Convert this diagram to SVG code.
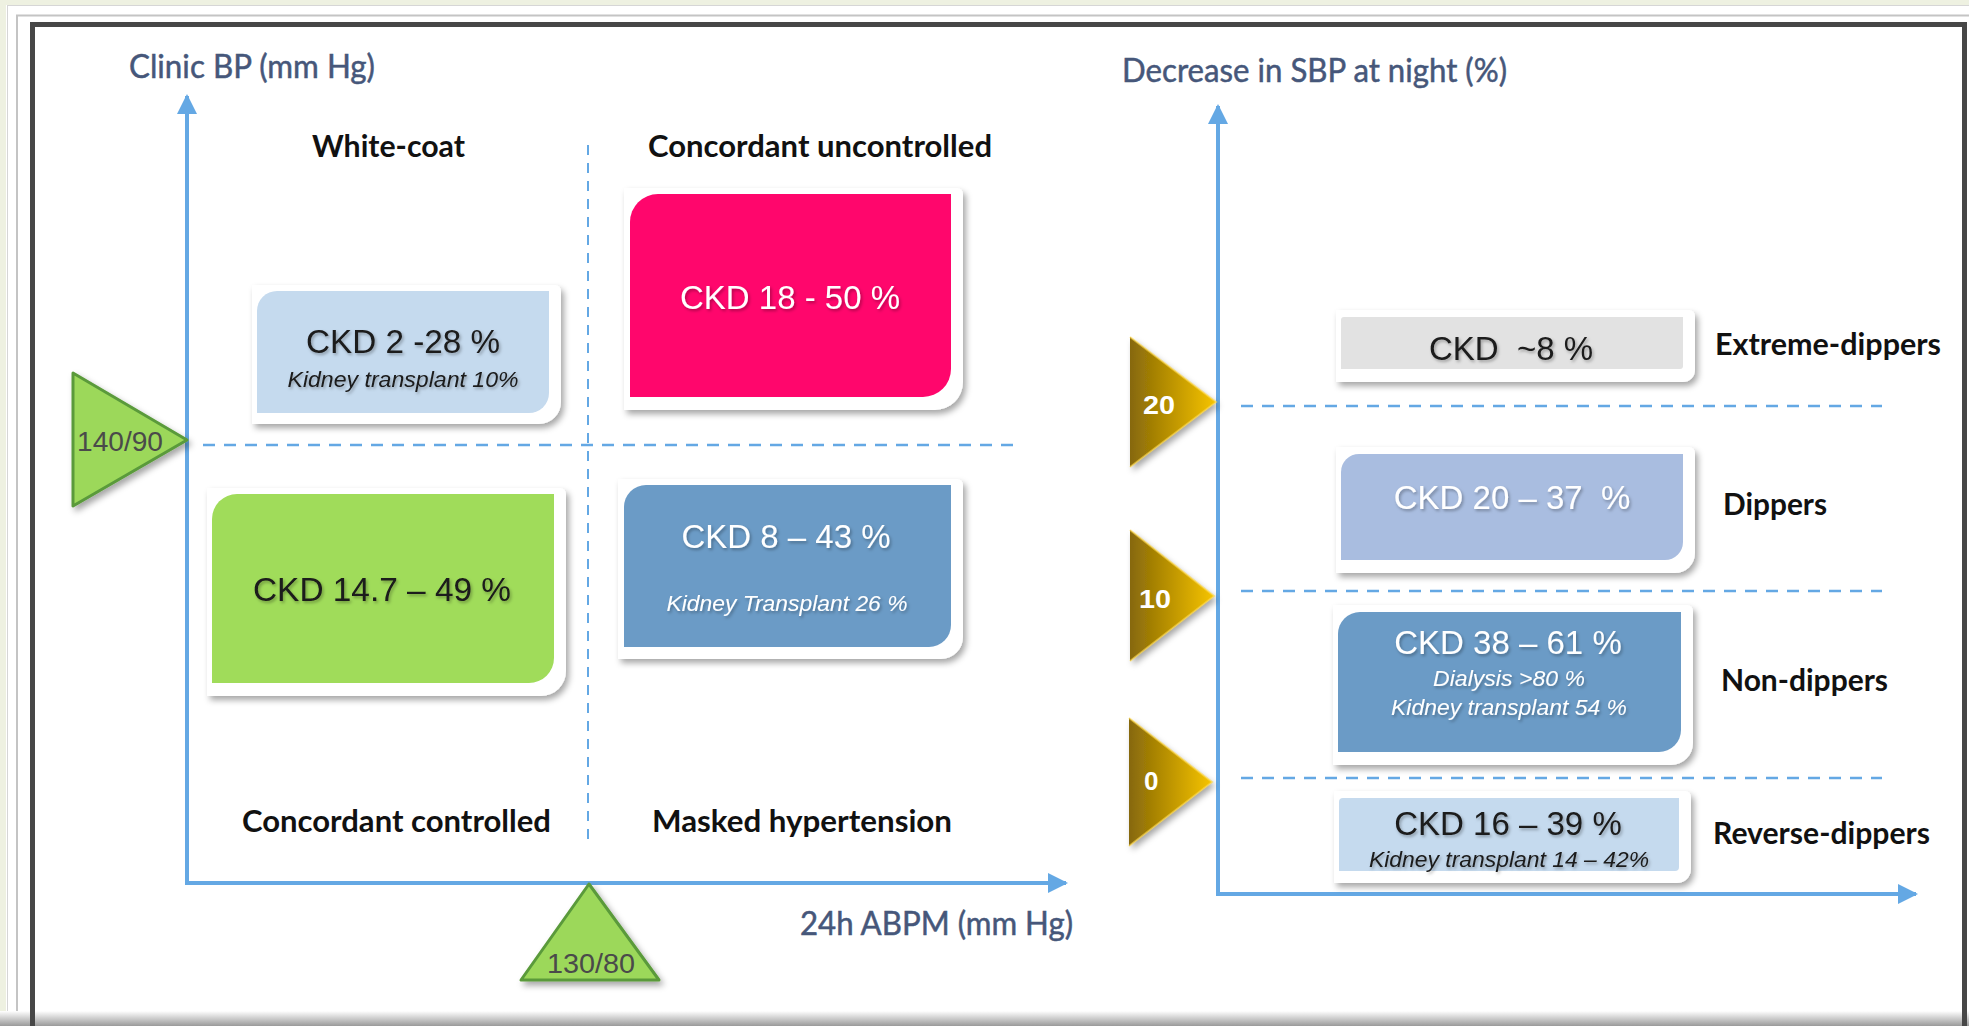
<svg xmlns="http://www.w3.org/2000/svg" width="1969" height="1026" viewBox="0 0 1969 1026">
<defs>
<filter id="sh" x="-10%" y="-10%" width="125%" height="130%"><feDropShadow dx="3" dy="4" stdDeviation="3" flood-color="#000" flood-opacity="0.35"/></filter>
<filter id="ts" x="-5%" y="-20%" width="115%" height="150%"><feDropShadow dx="1.5" dy="2" stdDeviation="1.5" flood-color="#000" flood-opacity="0.3"/></filter>
<linearGradient id="gold" x1="0" y1="0" x2="1" y2="0"><stop offset="0" stop-color="#86680a"/><stop offset="0.55" stop-color="#c49a00"/><stop offset="1" stop-color="#f6c400"/></linearGradient>
<linearGradient id="bot" x1="0" y1="0" x2="0" y2="1"><stop offset="0" stop-color="#ffffff"/><stop offset="1" stop-color="#9a9a9a"/></linearGradient>
<marker id="ah" viewBox="0 0 10 10" refX="9" refY="5" markerWidth="5" markerHeight="5" orient="auto" markerUnits="strokeWidth"><path d="M0,0 L10,5 L0,10 Z" fill="#64a8e4"/></marker>
<style>
.axis{stroke:#64a8e4;stroke-width:4;fill:none}
.dash{stroke:#64a8e4;stroke-width:2.5;stroke-dasharray:12 9;fill:none}
.vdash{stroke:#64a8e4;stroke-width:2;stroke-dasharray:10 8;fill:none}
.plate{fill:#ffffff;filter:url(#sh)}
.ttl{font-family:Lato,"Open Sans",sans-serif;font-size:32px;fill:#46577a;stroke:#46577a;stroke-width:0.5}
.lbl{font-family:Lato,"Open Sans",sans-serif;font-size:30px;font-weight:bold;fill:#111}
.big{font-family:"Liberation Sans",Arial,sans-serif;font-size:33px;text-anchor:middle;filter:url(#ts)}
.sm{font-family:"Liberation Sans",Arial,sans-serif;font-size:22px;font-style:italic;text-anchor:middle;filter:url(#ts)}
.w{fill:#ffffff}
.k{fill:#1a1a1a}
.tri{font-family:"Liberation Sans",Arial,sans-serif;font-size:28px;fill:#4a4a4a}
.gn{font-family:"Liberation Sans",Arial,sans-serif;font-size:26px;font-weight:bold;fill:#ffffff}
</style>
</defs>
<g id="frame">
<rect x="0" y="0" width="1969" height="1026" fill="#eef1e1"/>
<rect x="6" y="5" width="1963" height="1021" fill="#ffffff"/>
<rect x="7.5" y="5.5" width="1970" height="1030" fill="none" stroke="#d6d6d6" stroke-width="1"/>
<rect x="17" y="15.5" width="1960" height="1020" fill="none" stroke="#c4c4c4" stroke-width="2"/>
<rect x="20" y="18" width="1960" height="1020" fill="#ffffff"/>
<rect x="0" y="1011" width="1969" height="15" fill="url(#bot)"/>
<rect x="32.5" y="24.5" width="1932" height="1030" fill="none" stroke="#474747" stroke-width="5"/>
<rect x="35" y="27" width="1927" height="984" fill="#ffffff"/>
</g>
<g id="connectors">
<line class="axis" x1="187" y1="883" x2="187" y2="96" marker-end="url(#ah)"/>
<line class="axis" x1="185" y1="883" x2="1066" y2="883" marker-end="url(#ah)"/>
<line class="dash" x1="203" y1="445" x2="1017" y2="445"/>
<line class="vdash" x1="588" y1="145" x2="588" y2="841"/>
<line class="axis" x1="1218" y1="896" x2="1218" y2="106" marker-end="url(#ah)"/>
<line class="axis" x1="1216" y1="894" x2="1916" y2="894" marker-end="url(#ah)"/>
<line class="dash" x1="1241" y1="406" x2="1882" y2="406"/>
<line class="dash" x1="1241" y1="591" x2="1882" y2="591"/>
<line class="dash" x1="1241" y1="778" x2="1882" y2="778"/>
</g>
<g id="axis-titles">
<text class="ttl" x="129" y="78" textLength="246" lengthAdjust="spacingAndGlyphs">Clinic BP (mm Hg)</text>
<text class="ttl" x="800" y="935" textLength="273" lengthAdjust="spacingAndGlyphs">24h ABPM (mm Hg)</text>
<text class="ttl" x="1122" y="82" textLength="385" lengthAdjust="spacingAndGlyphs">Decrease in SBP at night (%)</text>
</g>
<g id="quadrant-labels">
<text class="lbl" x="312" y="157" textLength="153" lengthAdjust="spacingAndGlyphs">White-coat</text>
<text class="lbl" x="648" y="157" textLength="344" lengthAdjust="spacingAndGlyphs">Concordant uncontrolled</text>
<text class="lbl" x="242" y="832" textLength="309" lengthAdjust="spacingAndGlyphs">Concordant controlled</text>
<text class="lbl" x="652" y="832" textLength="300" lengthAdjust="spacingAndGlyphs">Masked hypertension</text>
</g>
<g id="tri-140">
<polygon points="73,373 187,440 73,506" fill="#9cd85a" stroke="#5a9a3a" stroke-width="3" stroke-linejoin="round" filter="url(#sh)"/>
<text class="tri" x="77" y="451" textLength="86" lengthAdjust="spacingAndGlyphs">140/90</text>
</g>
<g id="tri-130">
<polygon points="589,884 521,980 659,980" fill="#9cd85a" stroke="#5a9a3a" stroke-width="3" stroke-linejoin="round" filter="url(#sh)"/>
<text class="tri" x="547" y="973" textLength="88" lengthAdjust="spacingAndGlyphs">130/80</text>
</g>
<g id="box-whitecoat">
<path class="plate" d="M252,285 H555 A6,6 0 0 1 561,291 V402 A22,22 0 0 1 539,424 H252 Z"/>
<path d="M277,291 H549 V393 A20,20 0 0 1 529,413 H257 V311 A20,20 0 0 1 277,291 Z" fill="#c5daee"/>
<text class="big k" x="403" y="353" textLength="194" lengthAdjust="spacingAndGlyphs">CKD 2 -28 %</text>
<text class="sm k" x="403" y="387" textLength="231" lengthAdjust="spacingAndGlyphs">Kidney transplant 10%</text>
</g>
<g id="box-uncontrolled">
<path class="plate" d="M624,188 H957 A6,6 0 0 1 963,194 V382 A28,28 0 0 1 935,410 H624 Z"/>
<path d="M658,194 H951 V369 A28,28 0 0 1 923,397 H630 V222 A28,28 0 0 1 658,194 Z" fill="#ff066c"/>
<text class="big w" x="790" y="309">CKD 18 - 50 %</text>
</g>
<g id="box-controlled">
<path class="plate" d="M207,488 H560 A6,6 0 0 1 566,494 V671 A25,25 0 0 1 541,696 H207 Z"/>
<path d="M237,494 H554 V658 A25,25 0 0 1 529,683 H212 V519 A25,25 0 0 1 237,494 Z" fill="#a0dc5a"/>
<text class="big k" x="382" y="601" textLength="258" lengthAdjust="spacingAndGlyphs">CKD 14.7 – 49 %</text>
</g>
<g id="box-masked">
<path class="plate" d="M618,479 H957 A6,6 0 0 1 963,485 V637 A22,22 0 0 1 941,659 H618 Z"/>
<path d="M646,485 H951 V625 A22,22 0 0 1 929,647 H624 V507 A22,22 0 0 1 646,485 Z" fill="#6b9bc6"/>
<text class="big w" x="786" y="548">CKD 8 – 43 %</text>
<text class="sm w" x="787" y="611" font-size="23" textLength="241" lengthAdjust="spacingAndGlyphs">Kidney Transplant 26 %</text>
</g>
<g id="tri-20">
<polygon points="1130,337 1216,402 1130,467" fill="url(#gold)" filter="url(#sh)"/>
<polyline points="1130,337 1216,402 1130,467" fill="none" stroke="#ffd84a" stroke-width="2" stroke-opacity="0.6"/>
<text class="gn" x="1143" y="414" textLength="32" lengthAdjust="spacingAndGlyphs">20</text>
</g>
<g id="tri-10">
<polygon points="1130,530 1214,596 1130,661" fill="url(#gold)" filter="url(#sh)"/>
<polyline points="1130,530 1214,596 1130,661" fill="none" stroke="#ffd84a" stroke-width="2" stroke-opacity="0.6"/>
<text class="gn" x="1139" y="608" textLength="32" lengthAdjust="spacingAndGlyphs">10</text>
</g>
<g id="tri-0">
<polygon points="1129,718 1212,782 1129,846" fill="url(#gold)" filter="url(#sh)"/>
<polyline points="1129,718 1212,782 1129,846" fill="none" stroke="#ffd84a" stroke-width="2" stroke-opacity="0.6"/>
<text class="gn" x="1144" y="790">0</text>
</g>
<g id="box-extreme">
<path class="plate" d="M1336,310 H1689 A6,6 0 0 1 1695,316 V370 A12,12 0 0 1 1683,382 H1336 Z"/>
<path d="M1344,317 H1683 V366 A3,3 0 0 1 1680,369 H1341 V320 A3,3 0 0 1 1344,317 Z" fill="#e2e2e2"/>
<text class="big k" x="1511" y="360" xml:space="preserve">CKD  ~8 %</text>
<text class="lbl" x="1715" y="355" textLength="226" lengthAdjust="spacingAndGlyphs">Extreme-dippers</text>
</g>
<g id="box-dippers">
<path class="plate" d="M1336,447 H1689 A6,6 0 0 1 1695,453 V553 A20,20 0 0 1 1675,573 H1336 Z"/>
<path d="M1359,454 H1683 V542 A18,18 0 0 1 1665,560 H1341 V472 A18,18 0 0 1 1359,454 Z" fill="#a9bde0"/>
<text class="big w" x="1512" y="509" xml:space="preserve">CKD 20 – 37  %</text>
<text class="lbl" x="1723" y="515" textLength="104" lengthAdjust="spacingAndGlyphs">Dippers</text>
</g>
<g id="box-nondippers">
<path class="plate" d="M1333,605 H1687 A6,6 0 0 1 1693,611 V743 A22,22 0 0 1 1671,765 H1333 Z"/>
<path d="M1360,612 H1681 V730 A22,22 0 0 1 1659,752 H1338 V634 A22,22 0 0 1 1360,612 Z" fill="#6b9bc6"/>
<text class="big w" x="1508" y="654">CKD 38 – 61 %</text>
<text class="sm w" x="1509" y="686" textLength="152" lengthAdjust="spacingAndGlyphs">Dialysis &gt;80 %</text>
<text class="sm w" x="1509" y="715" textLength="236" lengthAdjust="spacingAndGlyphs">Kidney transplant 54 %</text>
<text class="lbl" x="1721" y="691" textLength="167" lengthAdjust="spacingAndGlyphs">Non-dippers</text>
</g>
<g id="box-reverse">
<path class="plate" d="M1334,791 H1685 A6,6 0 0 1 1691,797 V869 A14,14 0 0 1 1677,883 H1334 Z"/>
<path d="M1343,798 H1679 V867 A4,4 0 0 1 1675,871 H1339 V802 A4,4 0 0 1 1343,798 Z" fill="#c5daee"/>
<text class="big k" x="1508" y="835">CKD 16 – 39 %</text>
<text class="sm k" x="1509" y="867" textLength="280" lengthAdjust="spacingAndGlyphs">Kidney transplant 14 – 42%</text>
<text class="lbl" x="1713" y="844" textLength="217" lengthAdjust="spacingAndGlyphs">Reverse-dippers</text>
</g>
</svg>
